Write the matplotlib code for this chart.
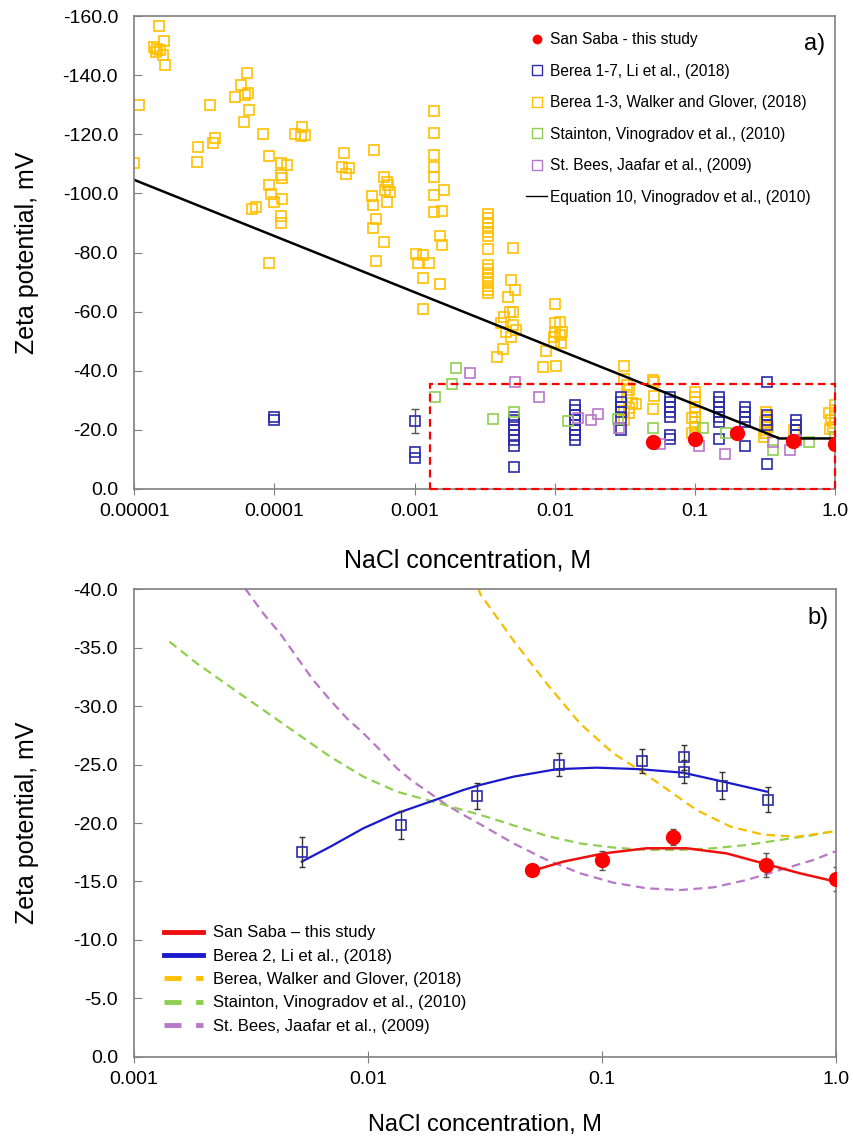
import matplotlib
matplotlib.use("Agg")
import matplotlib.pyplot as plt
from matplotlib.lines import Line2D
from matplotlib.patches import Rectangle

plt.rcParams['font.family'] = ['Liberation Sans', 'DejaVu Sans']

# ---------------- panel a) data ----------------
# Berea 1-3, Walker and Glover (2018)
walker_c = [1.0e-5, 1.09e-5, 1.50e-5, 1.39e-5, 1.46e-5, 1.53e-5, 1.43e-5, 1.64e-5, 1.61e-5, 1.66e-5,
            3.49e-5, 2.86e-5, 2.82e-5, 3.79e-5, 3.67e-5,
            6.41e-5, 5.81e-5, 5.27e-5, 6.2e-5, 6.52e-5, 6.63e-5, 6.11e-5, 6.96e-5, 7.44e-5,
            8.34e-5, 9.2e-5, 9.2e-5, 9.5e-5, 1.0e-4, 9.2e-5,
            1.12e-4, 1.24e-4, 1.12e-4, 1.14e-4, 1.14e-4, 1.12e-4, 1.12e-4,
            1.41e-4, 1.58e-4, 1.55e-4, 1.66e-4,
            3.16e-4, 3.06e-4, 3.39e-4, 3.23e-4,
            5.18e-4, 5.01e-4, 5.09e-4, 6.01e-4, 6.41e-4, 6.51e-4, 6.2e-4, 6.73e-4, 6.41e-4, 5.35e-4,
            5.09e-4, 6.01e-4, 5.35e-4,
            1.03e-3, 1.14e-3, 1.05e-3, 1.26e-3, 1.14e-3, 1.51e-3, 1.14e-3,
            1.37e-3, 1.37e-3, 1.37e-3, 1.37e-3, 1.37e-3, 1.37e-3, 1.61e-3, 1.37e-3, 1.58e-3, 1.51e-3, 1.56e-3,
            3.34e-3, 3.34e-3, 3.34e-3, 3.34e-3, 3.34e-3, 3.34e-3, 3.34e-3, 3.34e-3, 3.34e-3, 3.34e-3,
            3.34e-3, 3.34e-3, 3.34e-3, 3.34e-3, 3.34e-3,
            5.06e-3, 4.9e-3, 5.22e-3, 4.64e-3, 5.02e-3, 4.77e-3, 4.17e-3, 4.38e-3, 5.02e-3, 4.5e-3,
            5.3e-3, 4.9e-3, 4.3e-3, 3.85e-3,
            1.0e-2, 1.0e-2, 1.09e-2, 1.0e-2, 1.12e-2, 9.8e-3, 1.09e-2, 9.8e-3, 1.1e-2, 8.6e-3, 8.2e-3, 1.02e-2,
            0.0313, 0.0313, 0.033, 0.0339, 0.033, 0.0358, 0.0339, 0.0313, 0.0339, 0.0378, 0.0313,
            0.0503, 0.0511, 0.0511, 0.0503,
            0.1, 0.1, 0.1, 0.1, 0.1, 0.1, 0.095, 0.1, 0.1, 0.096, 0.1,
            0.32, 0.325, 0.315, 0.33, 0.315, 0.32, 0.31,
            0.507, 0.507,
            1.0, 1.0, 0.9, 0.99, 0.93, 1.0, 0.97, 0.92]
walker_z = [-110.3, -129.9, -156.5, -149.5, -149.0, -148.5, -147.8, -151.5, -146.8, -143.4,
            -130.0, -115.7, -110.6, -118.7, -117.0,
            -140.7, -136.6, -132.6, -133.3, -134.0, -128.2, -124.2, -94.7, -95.4,
            -120.1, -112.7, -102.8, -99.8, -97.0, -76.4,
            -110.3, -109.6, -106.2, -105.2, -98.0, -92.4, -90.0,
            -120.0, -122.5, -119.4, -119.8,
            -113.7, -109.0, -108.6, -106.6,
            -114.7, -99.1, -96.0, -105.6, -103.9, -102.8, -101.2, -100.5, -97.1, -91.3,
            -88.3, -83.6, -77.1,
            -79.5, -79.0, -76.5, -76.4, -71.4, -69.4, -60.9,
            -127.9, -120.5, -113.0, -109.0, -105.4, -99.5, -101.2, -93.8, -94.0, -85.7, -82.5,
            -93.0, -91.6, -89.9, -88.4, -87.0, -85.6, -81.1, -75.8, -74.3, -73.0,
            -71.5, -70.1, -68.7, -67.3, -66.2,
            -81.6, -70.7, -67.3, -65.0, -60.0, -59.8, -56.1, -58.3, -55.5, -53.2,
            -53.8, -51.5, -47.4, -44.8,
            -62.5, -56.0, -56.6, -53.2, -53.2, -51.5, -52.1, -49.8, -49.3, -46.7, -41.4, -41.6,
            -41.7, -37.1, -35.2, -33.5, -31.2, -29.0, -27.5, -26.4, -25.6, -28.8, -23.3,
            -36.9, -36.1, -31.5, -27.2,
            -32.9, -31.2, -29.5, -27.8, -26.1, -24.4, -23.9, -22.8, -20.9, -18.8, -18.3,
            -26.1, -24.4, -22.8, -21.1, -20.0, -18.8, -17.7,
            -20.0, -16.6,
            -28.4, -26.7, -25.6, -24.4, -23.3, -22.4, -20.9, -20.2]

# Berea 1-7, Li et al. (2018)
li_c = [1e-4, 1e-4, 1e-3, 1e-3, 1e-3,
        0.00515, 0.00515, 0.00515, 0.00515, 0.00515, 0.00515, 0.00515, 0.00515,
        0.014, 0.014, 0.014, 0.014, 0.014, 0.014, 0.014, 0.014,
        0.0295, 0.0295, 0.0295, 0.0295, 0.0295, 0.0295,
        0.066, 0.066, 0.066, 0.066, 0.066, 0.066, 0.066,
        0.149, 0.149, 0.149, 0.149, 0.149, 0.149, 0.149,
        0.227, 0.227, 0.227, 0.227, 0.227,
        0.325, 0.325, 0.325, 0.325, 0.325,
        0.527, 0.527, 0.527, 0.527, 0.527]
li_z = [-23.3, -24.2, -23.0, -12.6, -10.4,
        -24.5, -23.3, -21.6, -20.0, -18.3, -16.6, -14.5, -7.5,
        -28.4, -26.7, -25.0, -23.3, -21.6, -20.0, -18.3, -16.6,
        -31.2, -29.5, -27.8, -26.1, -23.9, -20.0,
        -31.2, -29.5, -27.8, -26.1, -24.4, -18.3, -16.9,
        -31.2, -29.5, -27.8, -26.1, -24.4, -22.8, -16.8,
        -27.8, -26.1, -24.4, -22.8, -14.5,
        -36.1, -25.0, -23.3, -21.6, -8.5,
        -23.3, -21.6, -20.0, -18.3, -16.6]
li_err_c = [1e-3]
li_err_z = [-23.0]
li_err = [4.1]

# Stainton, Vinogradov et al. (2010)
stainton_c = [1.96e-3, 1.86e-3, 1.41e-3, 3.65e-3, 5.12e-3, 0.01245, 0.0283, 0.0503, 0.1135, 0.1665,
              0.359, 0.655, 1.0]
stainton_z = [-40.8, -35.4, -31.2, -23.7, -25.9, -23.0, -23.7, -20.5, -20.5, -19.0,
              -13.2, -16.0, -17.7]

# St. Bees, Jaafar et al. (2009)
stbees_c = [2.47e-3, 5.2e-3, 7.66e-3, 0.01466, 0.01827, 0.02037, 0.0288, 0.0562, 0.1074, 0.1637,
            0.362, 0.477, 0.526]
stbees_z = [-39.1, -36.1, -31.0, -23.9, -23.3, -25.4, -20.5, -15.2, -14.5, -11.8,
            -16.0, -13.2, -16.6]

# San Saba - this study
sansaba_c = [0.05, 0.1, 0.2, 0.5, 1.0]
sansaba_z = [-16.0, -16.8, -18.8, -16.4, -15.2]
sansaba_err = [0.3, 0.8, 0.7, 1.0, 1.0]

# Equation 10, Vinogradov et al. (2010)
eq10_c = [1e-5, 0.3, 0.4, 1.0]
eq10_z = [-104.6, -19.5, -17.1, -17.1]

# ---------------- panel b) data ----------------
berea2_c = [0.0052, 0.01385, 0.0292, 0.0655, 0.148, 0.224, 0.224, 0.327, 0.51]
berea2_z = [-17.5, -19.8, -22.3, -25.0, -25.3, -25.6, -24.4, -23.2, -22.0]
berea2_err = [1.3, 1.2, 1.1, 1.0, 1.0, 1.1, 1.0, 1.15, 1.05]

berea2_fit_c = [0.00521, 0.00689, 0.00955, 0.01327, 0.01841, 0.02553, 0.0301, 0.0418, 0.064,
                0.0948, 0.145, 0.222, 0.33, 0.506]
berea2_fit_z = [-16.7, -17.97, -19.55, -20.83, -21.82, -22.82, -23.25, -23.96, -24.6,
                -24.73, -24.6, -24.3, -23.53, -22.68]

sansaba_fit_c = [0.0501, 0.0684, 0.1014, 0.155, 0.230, 0.341, 0.489, 0.701, 1.0]
sansaba_fit_z = [-15.9, -16.7, -17.4, -17.84, -17.84, -17.4, -16.55, -15.7, -14.98]

walker_fit_c = [0.0296, 0.0301, 0.0418, 0.0581, 0.0806, 0.1117, 0.145, 0.1828, 0.254, 0.3526,
                0.489, 0.679, 1.0]
walker_fit_z = [-40.1, -39.6, -35.6, -31.9, -28.5, -25.96, -24.5, -23.1, -21.1, -19.7,
                -19.0, -18.83, -19.3]

stainton_fit_c = [0.001416, 0.001854, 0.00257, 0.00357, 0.00495, 0.00689, 0.00955, 0.01327,
                  0.01841, 0.02553, 0.0301, 0.0418, 0.0581, 0.0806, 0.1117, 0.155, 0.2153,
                  0.299, 0.415, 0.576, 0.80, 1.0]
stainton_fit_z = [-35.5, -33.65, -31.65, -29.66, -27.67, -25.67, -23.96, -22.68,
                  -21.9, -21.1, -20.7, -19.8, -18.9, -18.25, -17.9, -17.7, -17.7,
                  -17.84, -18.12, -18.55, -18.97, -19.34]

stbees_fit_c = [0.00298, 0.00357, 0.00421, 0.00495, 0.00584, 0.00689, 0.00811, 0.00955, 0.01125,
                0.01327, 0.01562, 0.01841, 0.02168, 0.02553, 0.0301, 0.0418, 0.0581, 0.0806,
                0.1117, 0.155, 0.2153, 0.299, 0.415, 0.576, 0.80, 1.0]
stbees_fit_z = [-40.06, -37.9, -36.2, -34.2, -32.2, -30.5, -28.95, -27.67, -26.24,
                -24.68, -23.53, -22.54, -21.54, -20.7, -19.9, -18.26, -16.84, -15.7,
                -14.9, -14.42, -14.27, -14.5, -15.13, -15.98, -16.84, -17.6]

# ticks
ticks_a_x = [1e-5, 1e-4, 1e-3, 1e-2, 1e-1, 1.0]
ticks_a_xlab = ['0.00001', '0.0001', '0.001', '0.01', '0.1', '1.0']
ticks_a_y = [0, -20, -40, -60, -80, -100, -120, -140, -160]
ticks_b_x = [1e-3, 1e-2, 1e-1, 1.0]
ticks_b_xlab = ['0.001', '0.01', '0.1', '1.0']
ticks_b_y = [0, -5, -10, -15, -20, -25, -30, -35, -40]

YEL = '#FFC000'
BLU = '#2B2BA8'
GRN = '#8FCF4F'
PUR = '#B878C8'
RED = '#FF0000'
SPINE = '#808080'

fig = plt.figure(figsize=(8.54, 11.38), dpi=100)
ax1 = fig.add_axes([0.157, 0.5703, 0.821, 0.4156])
ax2 = fig.add_axes([0.157, 0.0712, 0.822, 0.4112])

sq = dict(marker='s', ls='none', ms=6.5, mfc='none', mew=1.2)

# --- panel a
ax1.plot(walker_c, walker_z, mec=YEL, **sq)
ax1.errorbar(li_err_c, li_err_z, yerr=li_err, fmt='none', ecolor='#555555', elinewidth=1, capsize=3)
ax1.plot(li_c, li_z, mec=BLU, **sq)
ax1.plot(stainton_c, stainton_z, mec=GRN, **sq)
ax1.plot(stbees_c, stbees_z, mec=PUR, **sq)
ax1.plot(eq10_c, eq10_z, color='black', lw=1.8)
ax1.plot(sansaba_c, sansaba_z, 'o', color=RED, ms=10, zorder=5)

ax1.add_patch(Rectangle((0.00128, 0), 1.0 - 0.00128, -35.4, fill=False, ec=RED, lw=1.6,
                        ls=(0, (3.5, 2.2)), clip_on=False, zorder=6))

ax1.set_xscale('log')
ax1.set_xlim(1e-5, 1.0)
ax1.set_ylim(0, -160)
ax1.set_xticks(ticks_a_x)
ax1.set_xticklabels(ticks_a_xlab)
ax1.set_yticks(ticks_a_y)
ax1.set_yticklabels([f'{v:.1f}' for v in ticks_a_y])
ax1.minorticks_off()
ax1.tick_params(axis='x', direction='inout', length=8, labelsize=14, color=SPINE, pad=6)
ax1.tick_params(axis='y', direction='in', length=6, labelsize=14, color=SPINE, pad=11.5)
ax1.set_xlabel('NaCl concentration, M', fontsize=18)
ax1.set_ylabel('Zeta potential, mV', fontsize=18)
ax1.xaxis.set_label_coords(0.475, -0.125)
ax1.yaxis.set_label_coords(-0.135, 0.5)
ax1.text(0.971, 0.941, 'a)', transform=ax1.transAxes, ha='center', va='center', fontsize=17)

leg_a = [
    Line2D([], [], marker='o', ls='none', color=RED, ms=6),
    Line2D([], [], marker='s', ls='none', mfc='none', mec=BLU, ms=7, mew=1),
    Line2D([], [], marker='s', ls='none', mfc='none', mec=YEL, ms=7, mew=1),
    Line2D([], [], marker='s', ls='none', mfc='none', mec=GRN, ms=7, mew=1),
    Line2D([], [], marker='s', ls='none', mfc='none', mec=PUR, ms=7, mew=1),
    Line2D([], [], color='black', lw=1),
]
lab_a = ['San Saba - this study', 'Berea 1-7, Li et al., (2018)',
         'Berea 1-3, Walker and Glover, (2018)', 'Stainton, Vinogradov et al., (2010)',
         'St. Bees, Jaafar et al., (2009)', 'Equation 10, Vinogradov et al., (2010)']
ax1.legend(leg_a, lab_a, loc='upper left', bbox_to_anchor=(0.559, 0.966), frameon=False,
           fontsize=11.2, labelspacing=1.06, handlelength=1.35, handletextpad=0.2,
           borderpad=0, borderaxespad=0)

# --- panel b
dash = (0, (4, 2.5))
ax2.plot(stbees_fit_c, stbees_fit_z, color=PUR, lw=1.6, ls=dash)
ax2.plot(stainton_fit_c, stainton_fit_z, color=GRN, lw=1.6, ls=dash)
ax2.plot(walker_fit_c, walker_fit_z, color='#F5BE00', lw=1.6, ls=dash)
ax2.plot(berea2_fit_c, berea2_fit_z, color='#1A1ACC', lw=1.6)
ax2.plot(sansaba_fit_c, sansaba_fit_z, color='#EE1010', lw=1.8)
ax2.errorbar(berea2_c, berea2_z, yerr=berea2_err, fmt='none', ecolor='#333333',
             elinewidth=1, capsize=2.5)
ax2.plot(berea2_c, berea2_z, mec=BLU, **sq)
ax2.errorbar(sansaba_c, sansaba_z, yerr=sansaba_err, fmt='none', ecolor='#555555',
             elinewidth=1, capsize=2.5)
ax2.plot(sansaba_c, sansaba_z, 'o', color=RED, ms=10, zorder=5)

ax2.set_xscale('log')
ax2.set_xlim(1e-3, 1.0)
ax2.set_ylim(0, -40)
ax2.set_xticks(ticks_b_x)
ax2.set_xticklabels(ticks_b_xlab)
ax2.set_yticks(ticks_b_y)
ax2.set_yticklabels([f'{v:.1f}' for v in ticks_b_y])
ax2.minorticks_off()
ax2.tick_params(axis='x', direction='inout', length=8, labelsize=14, color=SPINE, pad=6)
ax2.tick_params(axis='y', direction='in', length=6, labelsize=14, color=SPINE, pad=11.5)
ax2.set_xlabel('NaCl concentration, M', fontsize=17)
ax2.set_ylabel('Zeta potential, mV', fontsize=18)
ax2.xaxis.set_label_coords(0.5, -0.122)
ax2.yaxis.set_label_coords(-0.135, 0.5)
ax2.text(0.974, 0.938, 'b)', transform=ax2.transAxes, ha='center', va='center', fontsize=17)

leg_b = [
    Line2D([], [], color='#EE1010', lw=3.5),
    Line2D([], [], color='#1A1ACC', lw=3.5),
    Line2D([], [], color=YEL, lw=3.5, ls=(0, (3.5, 3))),
    Line2D([], [], color=GRN, lw=3.5, ls=(0, (3.5, 3))),
    Line2D([], [], color=PUR, lw=3.5, ls=(0, (3.5, 3))),
]
lab_b = ['San Saba \u2013 this study', 'Berea 2, Li et al., (2018)',
         'Berea, Walker and Glover, (2018)', 'Stainton, Vinogradov et al., (2010)',
         'St. Bees, Jaafar et al., (2009)']
ax2.legend(leg_b, lab_b, loc='upper left', bbox_to_anchor=(0.043, 0.281), frameon=False,
           fontsize=12, labelspacing=0.5, handlelength=2.3, handletextpad=0.65,
           borderpad=0, borderaxespad=0)

for ax in (ax1, ax2):
    for s in ax.spines.values():
        s.set_color(SPINE)
        s.set_linewidth(1.2)

fig.savefig('out.png', dpi=100)
